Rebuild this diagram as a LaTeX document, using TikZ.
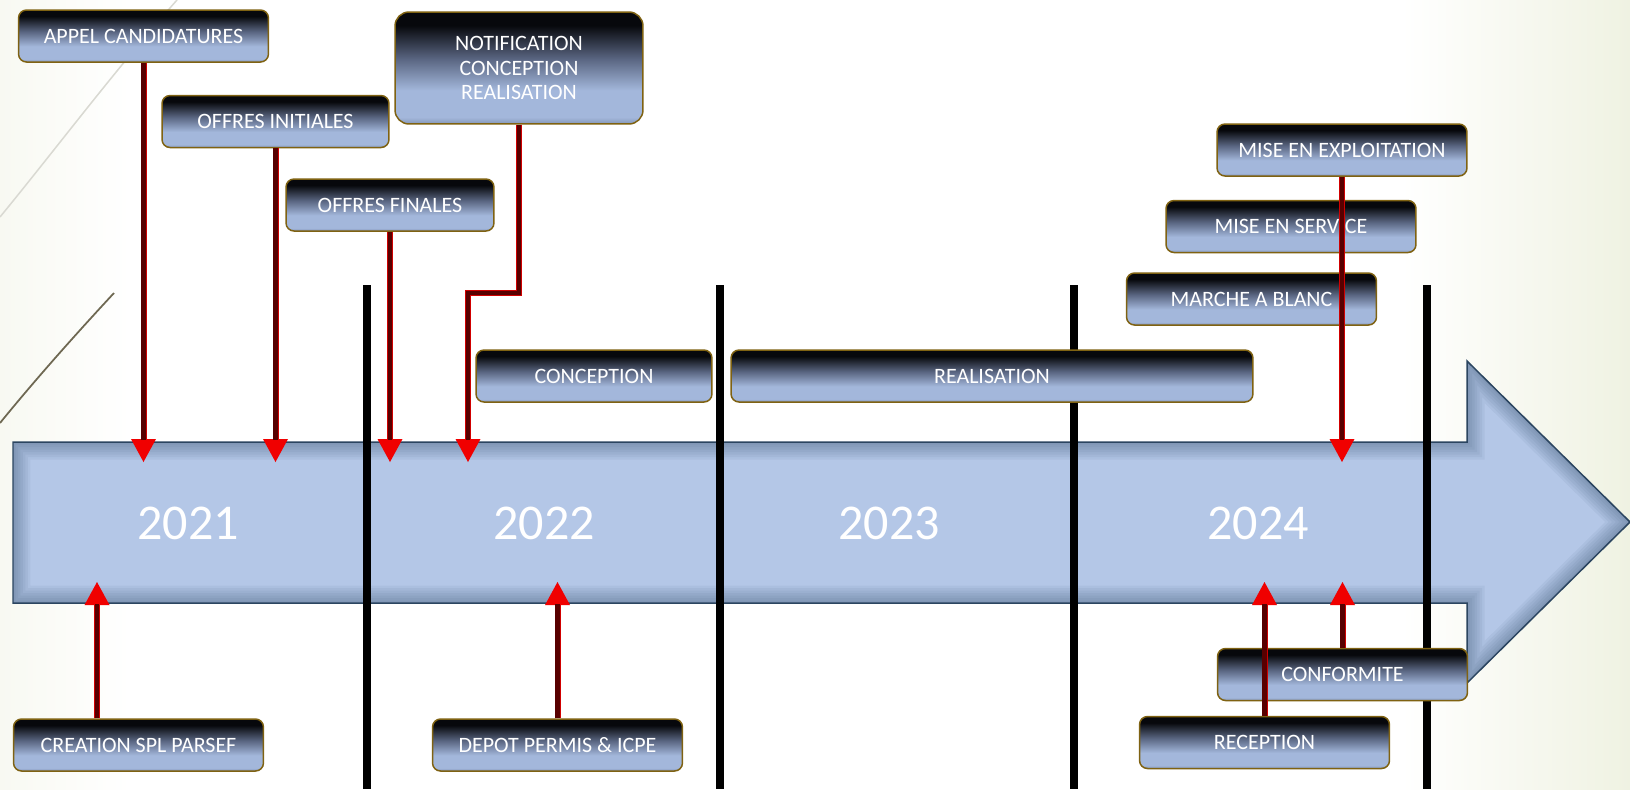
\documentclass[tikz,border=0pt]{standalone}
\usepackage{fontspec}
\setmainfont{Carlito}
\usetikzlibrary{arrows.meta,calc}

\definecolor{shaftblue}{HTML}{B4C7E7}
\definecolor{shaftrim}{HTML}{2B4560}
\definecolor{boxtop}{HTML}{07080C}
\definecolor{boxmid}{HTML}{5A6682}
\definecolor{boxblue}{HTML}{A3B7DB}
\definecolor{boxlow}{HTML}{8496B8}
\definecolor{boxrim}{HTML}{7F6212}
\definecolor{linkred}{HTML}{D00000}
\definecolor{linkdark}{HTML}{580000}
\definecolor{tipred}{HTML}{F00000}
\definecolor{bgleft}{HTML}{F8F9F2}
\definecolor{bgright}{HTML}{EFF2E2}
\definecolor{curvegray}{HTML}{D9D9D2}
\definecolor{curveolive}{HTML}{6E6852}

% background of the slide, path is mapped on 25bp..75bp
\pgfdeclarehorizontalshading{slidebg}{100bp}{color(0bp)=(bgleft); color(25bp)=(bgleft); color(29bp)=(white); color(68bp)=(white); color(75bp)=(bgright); color(100bp)=(bgright)}
% glossy box, dark on top
\pgfdeclareverticalshading{boxshade}{100bp}{color(0bp)=(boxlow); color(25bp)=(boxlow); color(28bp)=(boxblue); color(40bp)=(boxblue); color(54bp)=(boxmid); color(69bp)=(boxtop); color(75bp)=(boxtop); color(100bp)=(boxtop)}

\newcommand\shaftoutline{(13,442) -- (1467,442) -- (1467,361) -- (1630,522) -- (1467,683) -- (1467,603) -- (13,603) -- cycle}

\tikzset{
  tbox/.style={draw=boxrim, line width=0.03cm, rounded corners=0.16cm,
    shade, shading=boxshade,
    text=white, font=\fontsize{12.5}{13.7}\selectfont, align=center,
    minimum width=5cm, minimum height=1.04cm, inner sep=0pt},
  year/.style={text=white, font=\fontsize{28.5}{30}\selectfont},
  link/.style={line width=0.12cm, draw=linkred,
    -{Triangle[width=0.5cm,length=0.46cm,line width=0pt,color=tipred]},
    postaction={draw=linkdark, line width=0.085cm, -, shorten >=0.44cm}},
  yearline/.style={line width=0.16cm, draw=black},
}

\begin{document}
\begin{tikzpicture}[x=0.02cm,y=-0.02cm]
\useasboundingbox (0,0) rectangle (1630,789);
\shade[shading=slidebg] (0,0) rectangle (1630,789);
% slide decoration
\draw[curvegray, line width=0.03cm] (0,217) .. controls (55,150) and (115,70) .. (177,0);
\draw[curveolive, line width=0.035cm] (0,423) .. controls (35,380) and (75,335) .. (114,293);

% timeline arrow
\fill[shaftblue] \shaftoutline;
\begin{scope}
  \clip \shaftoutline;
  \foreach \w in {0.7,0.6,...,0.1}
    \draw[shaftrim, line width=\w cm, opacity=0.06] \shaftoutline;
\end{scope}
\draw[shaftrim, line width=0.03cm] \shaftoutline;

\node[year] (y21) at (188,523) {2021};
\node[year] (y22) at (544,523) {2022};
\node[year] (y23) at (889,523) {2023};
\node[year] (y24) at (1258,523) {2024};

\foreach \x in {367,720,1074,1427}
  \draw[yearline] (\x,285) -- (\x,789);

% milestones above
\node[tbox] (appel) at (143.5,36) {APPEL CANDIDATURES};
\node[tbox, minimum width=4.54cm] (initiales) at (275.5,121.5) {OFFRES INITIALES};
\node[tbox, minimum width=4.16cm] (finales) at (390,205) {OFFRES FINALES};
\node[tbox, minimum width=4.96cm, minimum height=2.24cm, rounded corners=0.28cm] (notif) at (519,68) {NOTIFICATION\\CONCEPTION\\REALISATION};
\node[tbox, minimum width=4.72cm] (conception) at (594,376) {CONCEPTION};
\node[tbox, minimum width=10.44cm] (realisation) at (992,376) {REALISATION};
\node[tbox] (exploitation) at (1342,150) {MISE EN EXPLOITATION};
\node[tbox] (service) at (1291,226.5) {MISE EN SERVICE};
\node[tbox] (blanc) at (1251.5,299) {MARCHE A BLANC};

% milestones below
\node[tbox] (creation) at (138.5,745) {CREATION SPL PARSEF};
\node[tbox] (depot) at (557.5,745) {DEPOT PERMIS \& ICPE};
\node[tbox] (conformite) at (1342.5,674.5) {CONFORMITE};
\node[tbox] (reception) at (1264.5,742.5) {RECEPTION};

\coordinate (upper) at (0,462);
\coordinate (lower) at (0,582);
\coordinate (elbow) at (468,293);
\coordinate (crfoot) at ([xshift=-0.83cm]creation.north);

\draw[link] (appel.south) -- (appel.south |- upper);
\draw[link] (initiales.south) -- (initiales.south |- upper);
\draw[link] (finales.south) -- (finales.south |- upper);
\draw[link] (notif.south) -- (notif.south |- elbow) -- (elbow) -- (elbow |- upper);
\draw[link] (exploitation.south) -- (exploitation.south |- upper);
\draw[link] (crfoot) -- (crfoot |- lower);
\draw[link] (depot.north) -- (depot.north |- lower);
\draw[link] (reception.north) -- (reception.north |- lower);
\draw[link] (conformite.north) -- (conformite.north |- lower);
\end{tikzpicture}
\end{document}
